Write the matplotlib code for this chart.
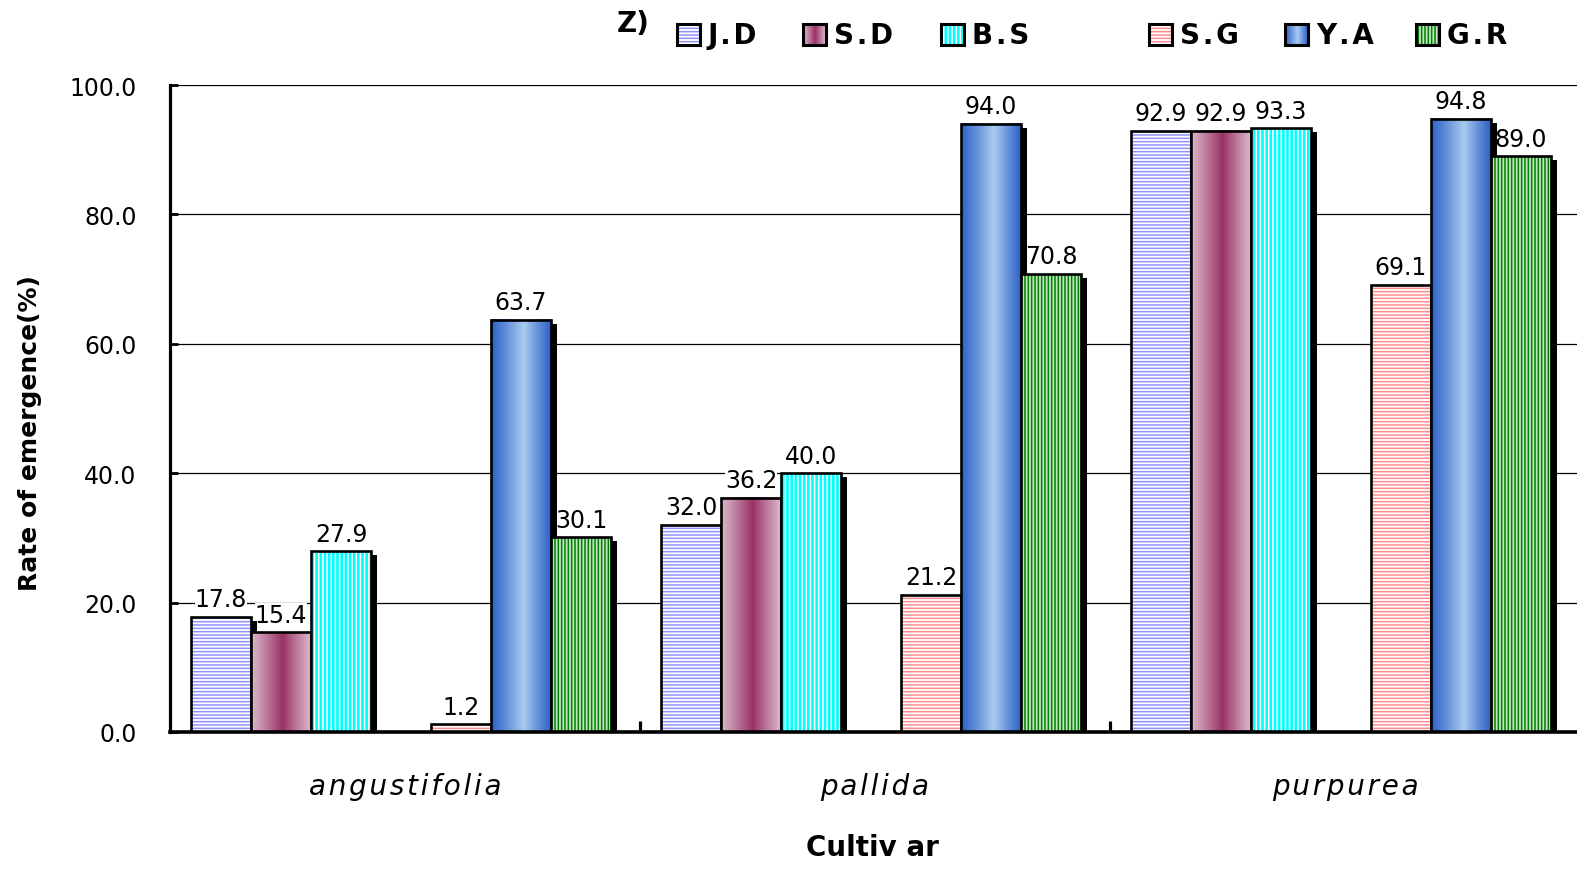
import numpy as np
import matplotlib
matplotlib.use('Agg')
import matplotlib.pyplot as plt
from matplotlib.patches import Rectangle
from matplotlib.transforms import ScaledTranslation
from matplotlib.colors import to_rgb

# ---------------- data ----------------
cultivars = ['angustifolia', 'pallida', 'purpurea']
series = ['J.D', 'S.D', 'B.S', 'S.G', 'Y.A', 'G.R']
jd = [17.8, 32.0, 92.9]
sd = [15.4, 36.2, 92.9]
bs = [27.9, 40.0, 93.3]
sg = [1.2, 21.2, 69.1]
ya = [63.7, 94.0, 94.8]
gr = [30.1, 70.8, 89.0]
values = [jd, sd, bs, sg, ya, gr]
yticks = [0, 20, 40, 60, 80, 100]
ytick_labels = ['0.0', '20.0', '40.0', '60.0', '80.0', '100.0']

# ---------------- styles ----------------
styles = {
    'J.D': dict(kind='hatch', face='white', hatch='-----', hc='#9090ff'),
    'S.D': dict(kind='grad', edge='#dcb6ca', mid='#993366', c=0.53),
    'B.S': dict(kind='hatch', face='#00ffff', hatch='||||', hc='white'),
    'S.G': dict(kind='hatch', face='white', hatch='-----', hc='#ff8c8c'),
    'Y.A': dict(kind='grad', edge='#2f62c8', mid='#a9ccf0', c=0.55),
    'G.R': dict(kind='hatch', face='#c4e4c4', hatch='|||||', hc='#007f00'),
}
plt.rcParams['hatch.linewidth'] = 1.1
plt.rcParams['font.family'] = ['DejaVu Sans']

W, H = 1577, 870
fig = plt.figure(figsize=(W / 100, H / 100), dpi=100)
ax = fig.add_axes([170 / W, (H - 733) / H, 1410 / W, 647 / H])


def fill_rect(a, x0, y0, w, h, st, z):
    if st['kind'] == 'hatch':
        a.add_patch(Rectangle((x0, y0), w, h, facecolor=st['face'],
                              edgecolor=st['hc'], hatch=st['hatch'],
                              linewidth=0, zorder=z))
    else:
        t = np.linspace(0, 1, 200)
        c = st['c']
        p = np.where(t < c, t / c, (1 - t) / (1 - c))
        p = np.clip(p, 0, 1) ** 1.1
        e = np.array(to_rgb(st['edge']))
        m = np.array(to_rgb(st['mid']))
        row = e[None, :] * (1 - p[:, None]) + m[None, :] * p[:, None]
        img = np.repeat(row[None, :, :], 2, axis=0)
        a.imshow(img, extent=[x0, x0 + w, y0, y0 + h], aspect='auto',
                 interpolation='bilinear', zorder=z)


# ---------------- bars ----------------
gw = 470.0                # group width in px (layout)
bw = 60.0 / gw            # bar width in data units
slots = [0, 1, 2, 4, 5, 6]
start = -0.5 + 21.0 / gw
shadow_tr = ax.transData + ScaledTranslation(6 / 100, -4 / 100, fig.dpi_scale_trans)

order = 0
for g in range(len(cultivars)):
    for s, name in enumerate(series):
        v = values[s][g]
        x0 = g + start + slots[s] * bw
        z = 3 + order * 0.1
        order += 1
        ax.add_patch(Rectangle((x0, 0), bw, v, facecolor='black', edgecolor='none',
                               transform=shadow_tr, zorder=z))
        fill_rect(ax, x0, 0, bw, v, styles[name], z + 0.03)
        ax.add_patch(Rectangle((x0, 0), bw, v, facecolor='none', edgecolor='black',
                               linewidth=1.9, joinstyle='miter', zorder=z + 0.06))
        ax.annotate(f'{v:.1f}', (x0 + bw / 2, v), xytext=(0, 4),
                    textcoords='offset points', ha='center', va='bottom',
                    fontsize=17, zorder=2.5,
                    bbox=dict(facecolor='white', edgecolor='none', pad=0))

ax.set_xlim(-0.5, 2.5)
ax.set_ylim(0, 100)
ax.set_yticks(yticks)
ax.set_yticklabels(ytick_labels, fontsize=17)
ax.yaxis.grid(True, color='black', linewidth=0.9)
ax.set_axisbelow(True)
ax.tick_params(axis='y', direction='in', length=6, width=2, pad=24)

hs = '\u200a'
ax.set_xticks(range(len(cultivars)))
ax.set_xticklabels([hs.join(c) for c in cultivars], fontsize=20, style='italic')
ax.tick_params(axis='x', which='major', length=0, pad=29)
ax.set_xticks([0.5, 1.5], minor=True)
ax.tick_params(axis='x', which='minor', direction='in', length=8, width=2.3)

for sp in ['top', 'right']:
    ax.spines[sp].set_visible(False)
ax.spines['left'].set_linewidth(2.3)
ax.spines['bottom'].set_linewidth(2.6)
for sp in ['left', 'bottom']:
    ax.spines[sp].set_zorder(20)

# ---------------- axis titles ----------------
fig.text(30 / W, 1 - 433 / H, 'Rate of emergence(%)', rotation=90, fontsize=18,
         fontweight='bold', ha='center', va='center')
fig.text(872 / W, 1 - 848 / H, 'Cultiv ar', fontsize=20, fontweight='bold',
         ha='center', va='center')

# ---------------- legend (pixel overlay) ----------------
ov = fig.add_axes([0, 0, 1, 1], zorder=30)
ov.set_xlim(0, W)
ov.set_ylim(H, 0)
ov.axis('off')
ov.patch.set_alpha(0)
ov.text(617, 24, 'Z)', fontsize=20, fontweight='bold', ha='left', va='center')
sq_x = [677, 803, 941, 1149, 1285, 1416]
for name, sx in zip(series, sq_x):
    fill_rect(ov, sx, 25, 23, 21, styles[name], 1)
    ov.add_patch(Rectangle((sx, 25), 23, 21, facecolor='none', edgecolor='black',
                           linewidth=2.2, zorder=2))
    ov.text(sx + 31, 36, hs.join(name), fontsize=20, fontweight='bold',
            ha='left', va='center')
ov.set_xlim(0, W)
ov.set_ylim(H, 0)

fig.savefig('out.png', dpi=100)
